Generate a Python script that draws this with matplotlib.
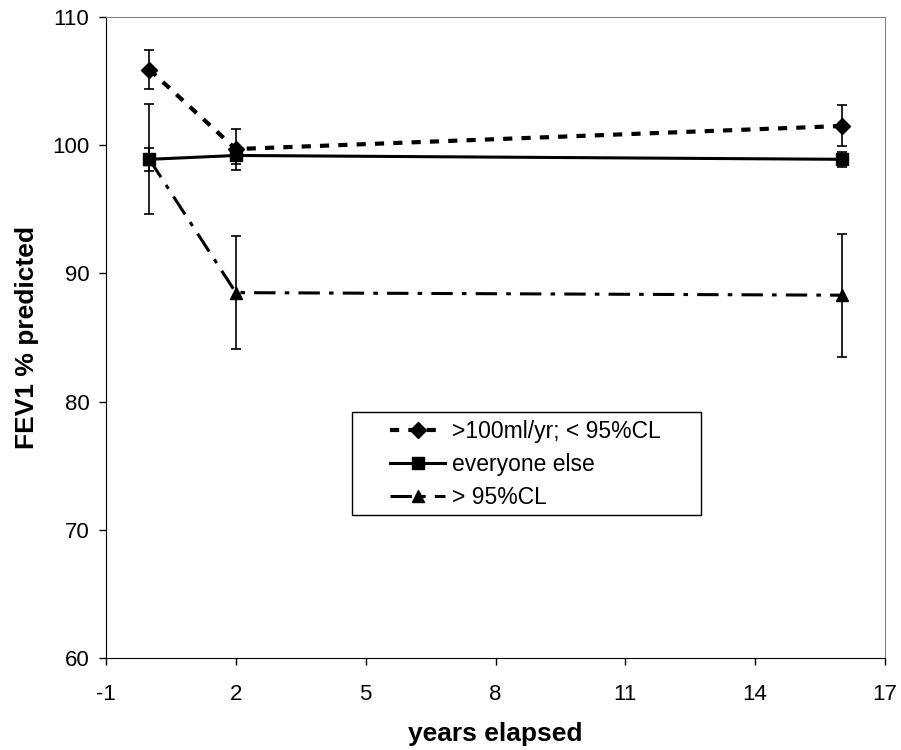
import matplotlib.pyplot as plt
import matplotlib.patches as mpatches
import numpy as np

plt.rcParams['font.family'] = ['Liberation Sans', 'DejaVu Sans']
plt.rcParams['axes.unicode_minus'] = False

# data
years = [0, 2, 16]
hi_fev = [105.9, 99.7, 101.5]      # >100ml/yr; < 95%CL
hi_err = [1.5, 1.6, 1.6]
everyone = [98.9, 99.2, 98.9]      # everyone else
every_err = [0.9, 0.7, 0.6]
above = [98.9, 88.5, 88.3]         # > 95%CL
above_err = [4.3, 4.4, 4.8]

labels = ['>100ml/yr; < 95%CL', 'everyone else', '> 95%CL']

fig = plt.figure(figsize=(9.01, 7.5), dpi=100)
ax = fig.add_axes([0.1177, 0.1227, 0.8645, 0.8546])

ax.errorbar(years, hi_fev, yerr=hi_err, color='black', ls=(0, (2.2, 2.2)), lw=3,
            marker='D', ms=8, capsize=3.7, elinewidth=1.2, capthick=1.2, label=labels[0], zorder=3)
ax.errorbar(years, everyone, yerr=every_err, color='black', ls='-', lw=2.2,
            marker='s', ms=9, capsize=3.7, elinewidth=1.2, capthick=1.2, label=labels[1], zorder=4)
ax.errorbar(years, above, yerr=above_err, color='black', ls=(0, (7, 3, 1.5, 3)), lw=2.2,
            marker='^', ms=9, capsize=3.7, elinewidth=1.2, capthick=1.2, label=labels[2], zorder=2)

ax.set_xlim(-1, 17)
ax.set_ylim(60, 110)
ax.set_xticks(np.arange(-1, 18, 3))
ax.set_yticks(np.arange(60, 111, 10))
ax.tick_params(direction='out', length=5, labelsize=16, width=1)
ax.tick_params(axis='x', pad=14)
ax.tick_params(axis='y', pad=7)

for s in ['top', 'right']:
    ax.spines[s].set_color('#808080')
for s in ['left', 'bottom']:
    ax.spines[s].set_color('black')

ax.set_xlabel('years elapsed', fontsize=19, fontweight='bold', labelpad=12)
ax.set_ylabel('FEV1 % predicted', fontsize=19, fontweight='bold', labelpad=9.5)

# legend without error bars in handles, frame drawn separately
h, l = ax.get_legend_handles_labels()
h = [hh[0] for hh in h]
leg = ax.legend(h, l, loc='upper left', bbox_to_anchor=(0.3646, 0.372), fontsize=16.5,
                frameon=False, handlelength=2.4, labelspacing=0.45, borderpad=0,
                borderaxespad=0, handletextpad=0.3)
ax.add_patch(mpatches.Rectangle((0.316, 0.223), 0.448, 0.161, transform=ax.transAxes,
                                fill=False, edgecolor='black', lw=1, zorder=5))

plt.savefig('out.png', dpi=100)
